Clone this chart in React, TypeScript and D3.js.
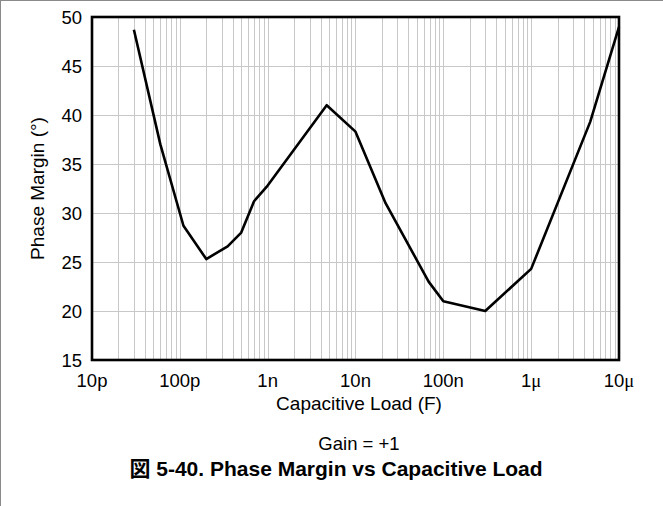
import { useEffect, useRef } from 'react';
import * as d3 from 'd3';

// capacitive load (F) vs phase margin (deg)
const CAP_LOAD = [30e-12, 60e-12, 110e-12, 200e-12, 350e-12, 500e-12, 700e-12, 1e-9, 4.7e-9, 10e-9, 22e-9, 68e-9, 100e-9, 300e-9, 1e-6, 4.7e-6, 10e-6];
const PHASE_MARGIN = [48.7, 37.0, 28.7, 25.3, 26.6, 28.0, 31.2, 32.8, 41.0, 38.3, 31.0, 23.0, 21.0, 20.0, 24.3, 39.3, 49.0];

const X_TICKS = [1e-11, 1e-10, 1e-9, 1e-8, 1e-7, 1e-6, 1e-5];
const X_TICK_LABELS: Array<[string, string]> = [
  ['10', 'p'],
  ['100', 'p'],
  ['1', 'n'],
  ['10', 'n'],
  ['100', 'n'],
  ['1', 'μ'],
  ['10', 'μ'],
];
const Y_TICKS = [15, 20, 25, 30, 35, 40, 45, 50];

const W = 663;
const H = 506;
const PLOT = { left: 92, right: 619, top: 17, bottom: 360 };
const FONT = 'Arial, "Liberation Sans", sans-serif';

export default function App() {
  const ref = useRef<SVGSVGElement | null>(null);

  useEffect(() => {
    if (!ref.current) return;
    const svg = d3.select(ref.current);
    svg.selectAll('*').remove();

    const x = d3.scaleLog().domain([1e-11, 1e-5]).range([PLOT.left, PLOT.right]);
    const y = d3.scaleLinear().domain([15, 50]).range([PLOT.bottom, PLOT.top]);

    // outer frame (left + top only, as in the source)
    svg.append('line').attr('x1', 0.5).attr('x2', 0.5).attr('y1', 0).attr('y2', H).attr('stroke', '#8a8a8a').attr('stroke-width', 1);
    svg.append('line').attr('x1', 0).attr('x2', W).attr('y1', 0.5).attr('y2', 0.5).attr('stroke', '#8a8a8a').attr('stroke-width', 1);

    const grid = svg.append('g').attr('stroke', '#c8c8c8').attr('stroke-width', 1);
    // vertical minor + major gridlines
    for (let e = -11; e < -5; e++) {
      for (let m = 1; m <= 9; m++) {
        const v = m * Math.pow(10, e);
        const px = Math.round(x(v)) + 0.5;
        grid.append('line').attr('x1', px).attr('x2', px).attr('y1', PLOT.top).attr('y2', PLOT.bottom);
      }
    }
    Y_TICKS.forEach((t) => {
      const py = Math.round(y(t)) + 0.5;
      grid.append('line').attr('x1', PLOT.left).attr('x2', PLOT.right).attr('y1', py).attr('y2', py);
    });

    // plot frame
    svg.append('rect')
      .attr('x', PLOT.left)
      .attr('y', PLOT.top)
      .attr('width', PLOT.right - PLOT.left)
      .attr('height', PLOT.bottom - PLOT.top)
      .attr('fill', 'none')
      .attr('stroke', '#000')
      .attr('stroke-width', 2.6);

    const pts = CAP_LOAD.map((c, i) => [c, PHASE_MARGIN[i]] as [number, number]);
    const line = d3.line<[number, number]>().x((d) => x(d[0])).y((d) => y(d[1]));
    svg.append('path')
      .datum(pts)
      .attr('d', line)
      .attr('fill', 'none')
      .attr('stroke', '#000')
      .attr('stroke-width', 2.6)
      .attr('stroke-linejoin', 'round');

    // y tick labels
    Y_TICKS.forEach((t) => {
      svg.append('text')
        .attr('x', PLOT.left - 10)
        .attr('y', y(t))
        .attr('dy', '0.36em')
        .attr('text-anchor', 'end')
        .attr('font-family', FONT)
        .attr('font-size', 18.5)
        .text(String(t));
    });

    // x tick labels
    X_TICKS.forEach((t, i) => {
      const [num, unit] = X_TICK_LABELS[i];
      const txt = svg.append('text')
        .attr('x', x(t))
        .attr('y', PLOT.bottom + 27)
        .attr('text-anchor', 'middle')
        .attr('font-family', FONT)
        .attr('font-size', 18.5);
      txt.append('tspan').text(num);
      const u = txt.append('tspan').text(unit);
      if (unit === 'μ') u.attr('font-family', '"Liberation Serif", "DejaVu Serif", serif');
    });

    svg.append('text')
      .attr('x', 359)
      .attr('y', 410)
      .attr('text-anchor', 'middle')
      .attr('font-family', FONT)
      .attr('font-size', 19)
      .text('Capacitive Load (F)');

    svg.append('text')
      .attr('transform', `translate(44,${(PLOT.top + PLOT.bottom) / 2}) rotate(-90)`)
      .attr('text-anchor', 'middle')
      .attr('font-family', FONT)
      .attr('font-size', 19)
      .text('Phase Margin (°)');

    svg.append('text')
      .attr('x', 359)
      .attr('y', 450)
      .attr('text-anchor', 'middle')
      .attr('font-family', FONT)
      .attr('font-size', 18.5)
      .text('Gain = +1');

    const title = svg.append('text')
      .attr('x', 336)
      .attr('y', 476)
      .attr('text-anchor', 'middle')
      .attr('font-family', FONT)
      .attr('font-size', 21)
      .attr('font-weight', 'bold');
    title.append('tspan').attr('font-family', '"Noto Sans CJK JP", sans-serif').text('図');
    title.append('tspan').text(' 5-40. Phase Margin vs Capacitive Load');
  }, []);

  return (
    <div style={{ position: 'absolute', left: 0, top: 0, width: W, height: H, background: '#fff' }}>
      <svg ref={ref} width={W} height={H} style={{ display: 'block' }} />
    </div>
  );
}
